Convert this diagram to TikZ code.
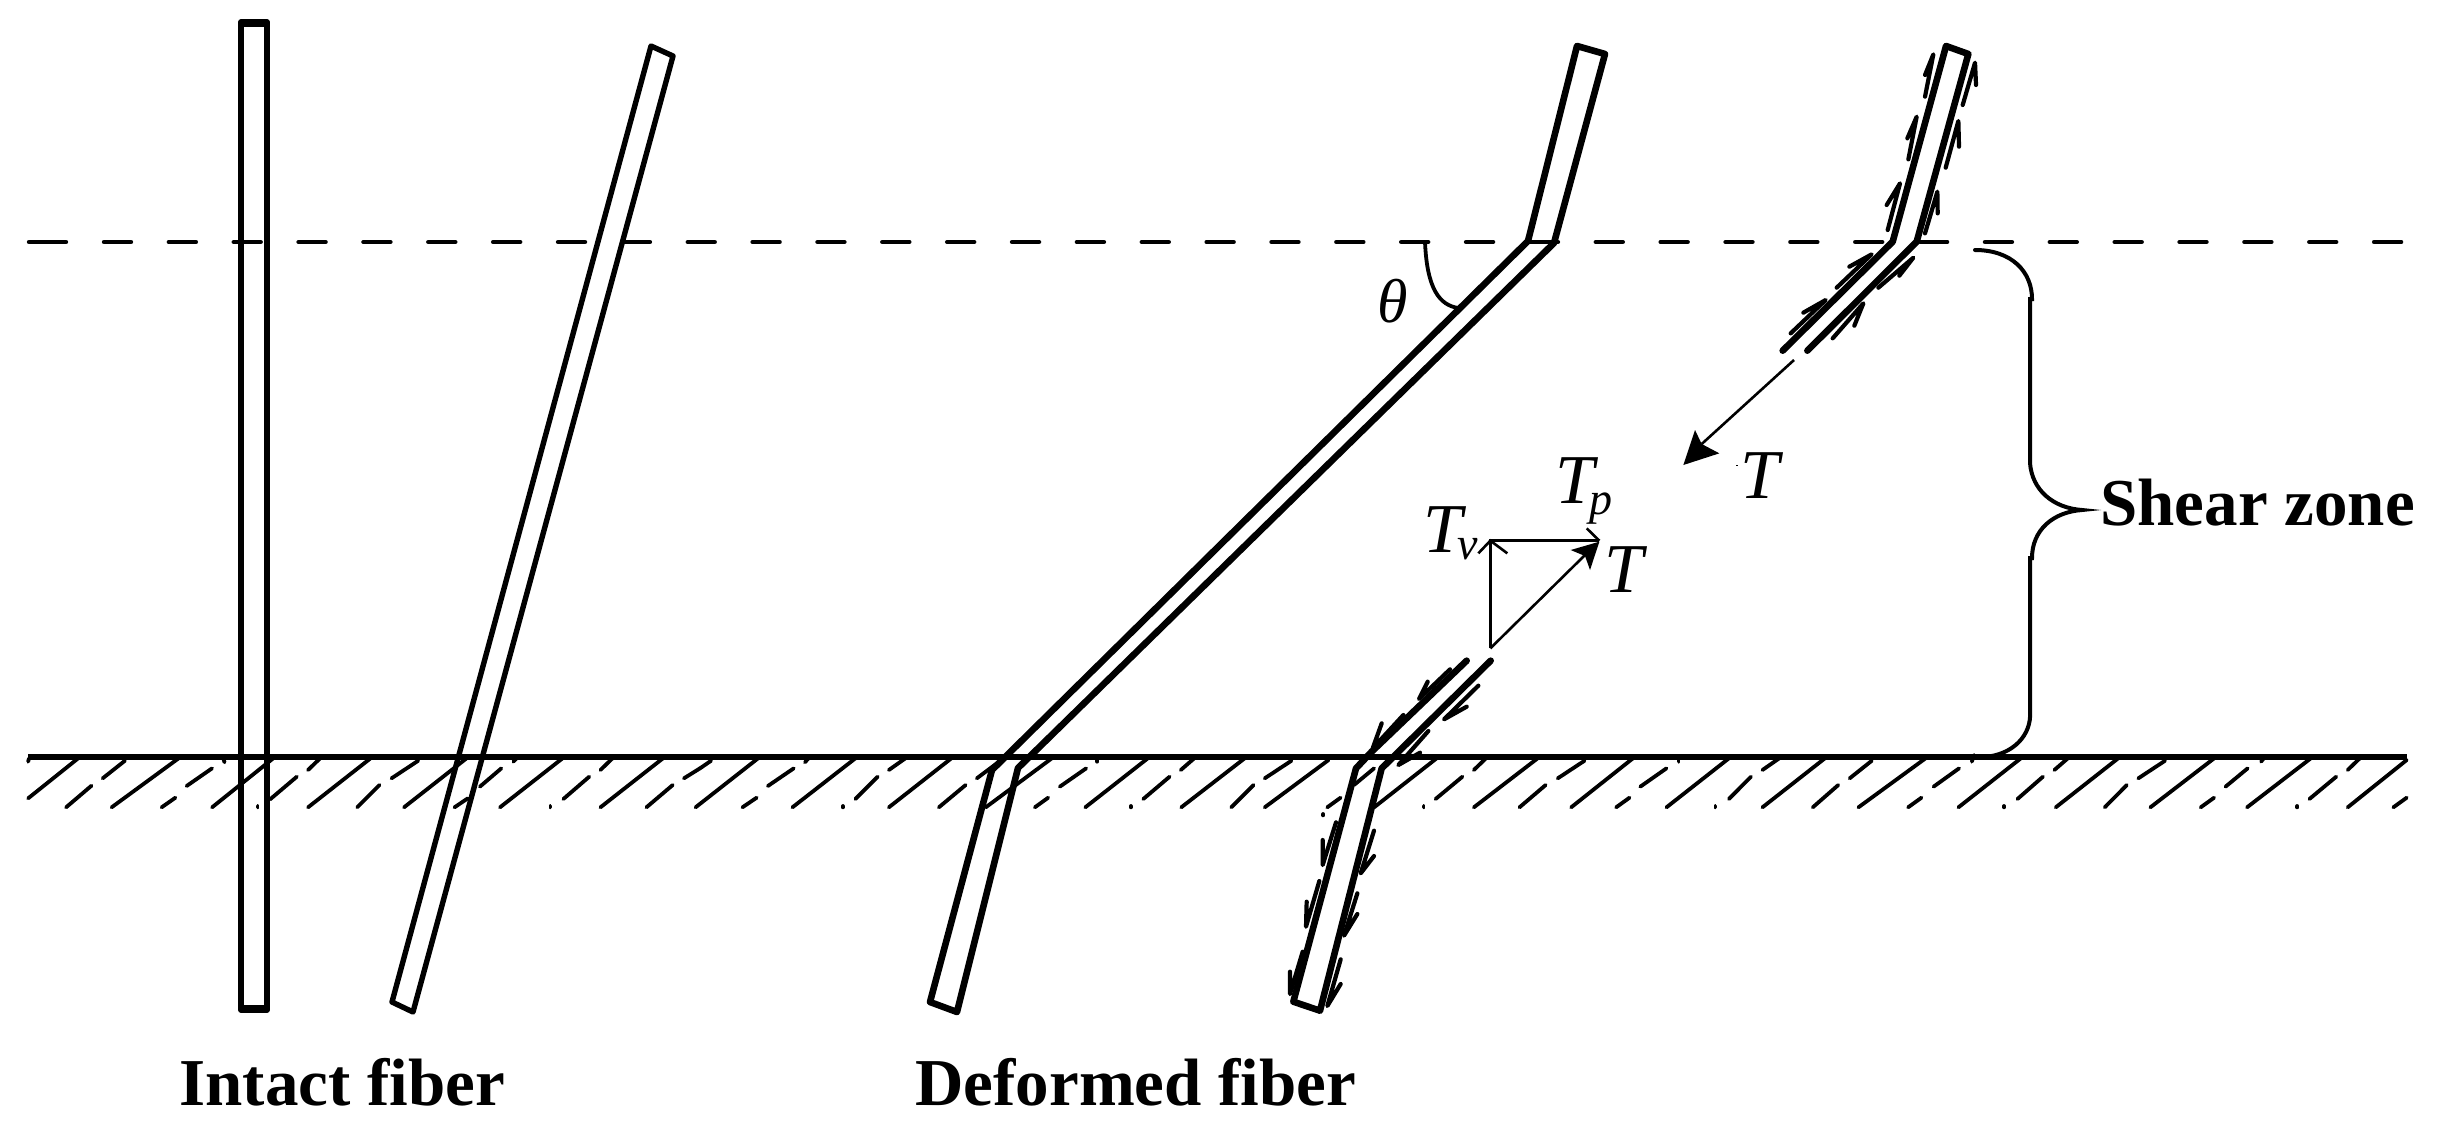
\documentclass[tikz,border=0pt]{standalone}
\usepackage{fontspec}
\setmainfont{Liberation Serif}
\tikzset{
  hatchline/.style={line width=1.9pt,line cap=round},
  fiberA/.style={line width=2.7pt,line join=round,line cap=round},
  fiberB/.style={line width=3.3pt,line join=round,line cap=round},
  shearmark/.style={line width=2.1pt,line cap=round,line join=round},
  thinline/.style={line width=1.3pt},
  bracedraw/.style={line width=2pt,line cap=round},
  varT/.style={inner sep=0pt,anchor=base west,font=\fontsize{35pt}{40pt}\selectfont\itshape},
  varS/.style={inner sep=0pt,anchor=base west,font=\fontsize{23pt}{27pt}\selectfont\itshape},
  boldlabel/.style={inner sep=0pt,anchor=base west,font=\fontsize{33.5pt}{40pt}\selectfont\bfseries}
}
\newcommand{\hatchlist}[1]{\foreach \a/\b/\c/\d in {#1} {\draw[hatchline] (\a,\b) -- (\c,\d);}}
\newcommand{\markarrows}[1]{\foreach \a/\b/\c/\d/\e/\f in {#1} {\draw[shearmark] (\a,\b) -- (\c,\d) -- (\e,\f);}}
\begin{document}
\begin{tikzpicture}[x=0.5pt,y=-0.5pt]
\useasboundingbox (0,0) rectangle (2452,1136);

% dashed boundary
\draw[line width=2.2pt,line cap=round] (29,242) -- (66,242);
\draw[line width=2.2pt,line cap=round,dash pattern=on 13.5pt off 18.93pt] (104,242) -- (2405,242);

% ground line
\draw[line width=2.6pt] (28,757) -- (2407,757);

% hatching, first part
\begin{scope}[yshift=-365pt,x=0.22321pt,y=-0.16667pt]
\hatchlist{63/205/175/85,230/145/280/92,148/232/205/167,250/232/400/85,418/168/475/115,362/232/393/203,475/232/612/85,500/85/503/97,65/85/63/95,577/228/577/232,605/208/665/140,690/120/717/85,690/232/830/85,800/232/850/165,877/145/937/92,905/232/1045/85,1018/232/1048/205,1075/170/1123/115,1150/95/1157/85,1120/232/1260/85,1233/228/1233/232,1262/207/1320/140,1345/120/1372/85,1345/232/1485/85,1448/232/1507/165,1532/145/1568/115}
\end{scope}
% hatching, second part
\begin{scope}[xshift=350pt,yshift=-365pt,x=0.22321pt,y=-0.16667pt]
\hatchlist{0/115/25/92,-10/232/130/85,95/232/127/203,152/168/210/115,235/97/243/85,207/232/348/85,320/228/320/232,348/207/398/140,423/120/460/85,423/232/563/85,535/232/595/165,620/145/680/85,640/232/788/85,750/232/780/203,806/170/865/115,890/95/890/85,863/232/1003/85,965/228/965/232,993/207/1052/140,1077/120/1107/85,1078/232/1220/85,1190/232/1240/165,1265/145/1325/92,1265/232/1408/90,1405/232/1435/203,1396/252/1396/256,1465/165/1510/115,1510/232/1650/85}
\end{scope}
% hatching, third part
\begin{scope}[xshift=700pt,yshift=-365pt,x=0.33557pt,y=-0.16667pt]
\hatchlist{110/120/128/85,53/207/93/140,35/228/35/232,110/232/205/85,178/232/217/165,235/145/275/92,255/232/347/85,322/232/342/203,358/170/397/115,415/95/415/85,397/232/490/85,470/228/470/232,490/207/523/140,540/120/565/85,540/232/633/85,615/232/653/165,670/145/703/92,683/232/783/85,757/232/777/203,795/170/833/115,852/95/855/75,832/232/925/85,900/228/900/232,920/207/958/140,975/120/995/85,977/232/1070/85,1050/232/1083/165,1100/145/1140/92,1118/232/1213/85,1193/232/1213/203,1230/170/1263/115,1283/95/1287/85,1262/232/1357/85,1337/228/1337/232,1355/207/1395/140,1412/120/1430/85,1412/232/1500/90,1480/232/1500/203}
\end{scope}

% intact fibers
\draw[fiberA] (241,22) -- (267,22) -- (267,1010) -- (241,1010) -- cycle;
\draw[line width=3.2pt] (241,24) -- (267,24);
\draw[line width=3.2pt] (241,1008) -- (267,1008);
\draw[fiberA] (651,46) -- (673,56) -- (413,1012) -- (392,1002) -- cycle;

% deformed fiber
\draw[fiberB] (1577,46) -- (1605,54) -- (1554,243) -- (1018,768) -- (957,1012) -- (930,1002) -- (992,770) -- (1528,241) -- cycle;

% theta arc
\draw[line width=1.9pt,line cap=round] (1425,242) .. controls (1427,290) and (1440,305) .. (1458,308);
\node[inner sep=0pt,anchor=base west,font=\fontsize{31pt}{36pt}\selectfont\itshape] (thetalabel) at (1377,322) {θ};

% upper broken fiber with shear marks
\begin{scope}[xshift=850pt,yshift=-10pt,x=0.16667pt,y=-0.16667pt]
\draw[fiberB] (248,992) -- (578,665) -- (738,78) -- (805,102) -- (650,665) -- (322,992);
\markarrows{675/230/700/103/675/165,625/418/650/290/622/355,563/630/600/490/560/555,788/255/825/128/828/195,737/443/775/303/777/380,675/640/712/515/713/580,410/803/515/703/448/740,272/940/377/840/310/878,535/803/640/713/598/767,398/955/490/850/463/917}
\end{scope}

% lower broken fiber with shear marks
\begin{scope}[xshift=625pt,yshift=-310pt,x=0.16667pt,y=-0.16667pt]
\draw[fiberB] (650,122) -- (365,395) -- (318,445) -- (130,1145) -- (210,1172) -- (395,445) -- (722,122);
\markarrows{600/148/507/237/533/185,460/285/368/385/395/310,685/197/582/298/650/260,535/333/445/435/510/398,258/607/218/735/218/660,208/783/168/920/170/845,158/995/120/1122/120/1055,372/632/332/760/372/708,322/820/282/947/322/882,272/1018/232/1158/272/1092}
\end{scope}

% force triangle and top force
\begin{scope}[xshift=700pt,yshift=-210pt,x=0.16667pt,y=-0.16667pt]
\coordinate (base) at (271,685);
\coordinate (apexv) at (271,362);
\coordinate (apext) at (598,362);
\coordinate (topstart) at (1182,-180);
\coordinate (topend) at (905,72);
\draw[thinline] (base) -- (apexv) -- (apext);
\draw[thinline] (base) -- (555,405);
\draw[thinline] (235,400) -- (apexv) -- (322,400);
\draw[thinline] (560,325) -- (apext);
\fill (598,365) -- (512,390) -- (555,408) -- (570,450) -- cycle;
\draw[thinline] (topstart) -- (topend);
\fill (850,135) -- (885,30) -- (905,72) -- (958,100) -- cycle;
\fill (1009,135) rectangle (1013,139);
\end{scope}

% force labels
\node[varT] (tp) at (1555,503) {T};
\node[varS] (tpsub) at (1589,514) {p};
\node[varT] (tv) at (1423,552) {T};
\node[varS] (tvsub) at (1457,559) {v};
\node[varT] (tres) at (1604,592) {T};
\node[varT] (ttop) at (1740,498) {T};

% brace
\draw[bracedraw] (1975,250) .. controls (2012,250) and (2032,272) .. (2032,299) -- (2030,299) -- (2030,463)
  .. controls (2032,490) and (2053,508) .. (2082,510)
  .. controls (2053,512) and (2032,530) .. (2032,558) -- (2030,558) -- (2030,711)
  .. controls (2032,735) and (2013,755) .. (1984,757);

% labels
\node[boldlabel] (shear) at (2100,525) {Shear zone};
\node[boldlabel] (intact) at (179,1105) {Intact fiber};
\node[boldlabel] (deformed) at (915,1105) {Deformed fiber};
\end{tikzpicture}
\end{document}
